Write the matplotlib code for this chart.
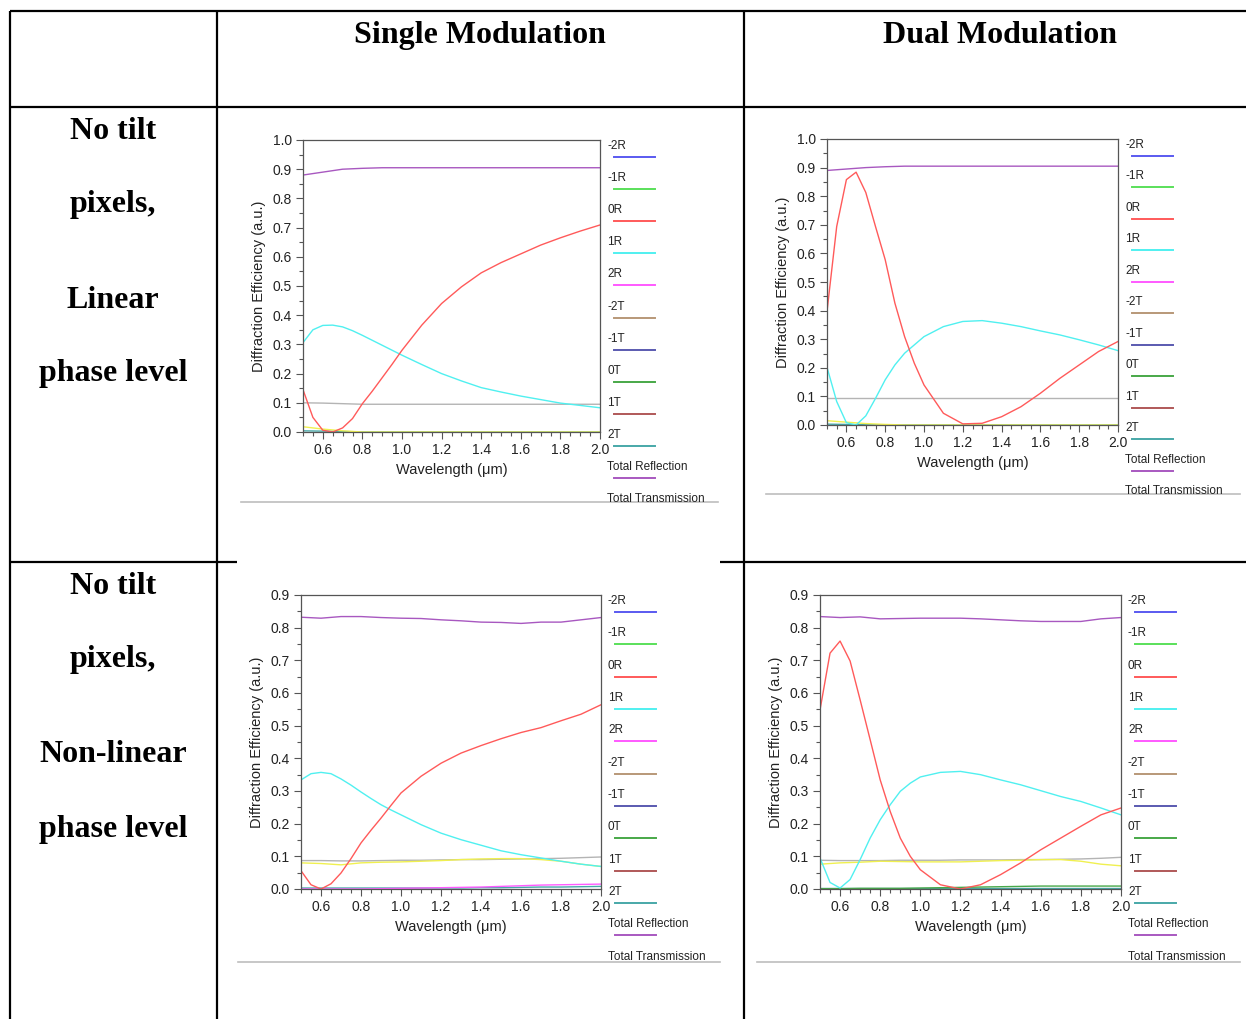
import matplotlib.pyplot as plt
from matplotlib.ticker import MultipleLocator, FormatStrFormatter

W, H = 1246, 1019

# wavelength grids (um)
WL = [0.5, 0.55, 0.6, 0.65, 0.7, 0.75, 0.8, 0.85, 0.9, 0.95, 1.0,
      1.1, 1.2, 1.3, 1.4, 1.5, 1.6, 1.7, 1.8, 1.9, 2.0]
WLC = [0.5, 0.6, 0.7, 0.8, 0.9, 1.0, 1.1, 1.2, 1.3, 1.4, 1.5, 1.6, 1.7, 1.8, 1.9, 2.0]

ORDERS = ['-2R', '-1R', '0R', '1R', '2R', '-2T', '-1T', '0T', '1T', '2T',
          'Total Reflection', 'Total Transmission']
ORDER_COLORS = ['#5a5af0', '#5ae05a', '#ff5a5a', '#50f0f0', '#ff5aff', '#b89878',
                '#5a5ab0', '#48a848', '#b05858', '#48a8a8', '#a858c0', None]

COL_HEADERS = ['Single Modulation', 'Dual Modulation']
ROW_LABELS = [['No tilt', 'pixels,', 'Linear', 'phase level'],
              ['No tilt', 'pixels,', 'Non-linear', 'phase level']]

# single modulation, linear phase
SL_0R = [0.145, 0.05, 0.006, 0.0, 0.014, 0.046, 0.097, 0.14, 0.186, 0.232, 0.28,
         0.366, 0.44, 0.497, 0.545, 0.58, 0.61, 0.64, 0.665, 0.688, 0.709]
SL_1R = [0.306, 0.35, 0.365, 0.366, 0.36, 0.347, 0.331, 0.314, 0.297, 0.28, 0.263,
         0.231, 0.2, 0.175, 0.152, 0.137, 0.123, 0.111, 0.099, 0.091, 0.083]
SL_TOTR = [0.88, 0.89, 0.9, 0.903, 0.905, 0.905, 0.905, 0.905, 0.905, 0.905,
           0.905, 0.905, 0.905, 0.905, 0.905, 0.905]
SL_TOTT = [0.1, 0.099, 0.097, 0.095, 0.095, 0.095, 0.095, 0.095, 0.095, 0.095,
           0.095, 0.095, 0.095, 0.095, 0.095, 0.095]
SL_YEL = [0.018, 0.01, 0.004, 0.0, 0.0, 0.0, 0.0, 0.0, 0.0, 0.0, 0.0, 0.0, 0.0, 0.0, 0.0, 0.0]
SL_2T = [0.004, 0.003, 0.002, 0.0, 0.0, 0.0, 0.0, 0.0, 0.0, 0.0, 0.0, 0.0, 0.0, 0.0, 0.0, 0.0]

# dual modulation, linear phase
DL_0R = [0.397, 0.694, 0.858, 0.884, 0.813, 0.694, 0.578, 0.426, 0.309, 0.216, 0.14,
         0.041, 0.004, 0.006, 0.029, 0.064, 0.111, 0.163, 0.21, 0.257, 0.292]
DL_1R = [0.202, 0.082, 0.008, 0.0, 0.032, 0.093, 0.158, 0.21, 0.251, 0.28, 0.309,
         0.344, 0.362, 0.365, 0.356, 0.344, 0.329, 0.315, 0.298, 0.28, 0.26]
DL_TOTR = [0.89, 0.895, 0.9, 0.903, 0.905, 0.905, 0.905, 0.905, 0.905, 0.905,
           0.905, 0.905, 0.905, 0.905, 0.905, 0.905]
DL_TOTT = [0.095] * 16
DL_YEL = [0.015, 0.01, 0.005, 0.002, 0.0, 0.0, 0.0, 0.0, 0.0, 0.0, 0.0, 0.0, 0.0, 0.0, 0.0, 0.0]
DL_2T = [0.003, 0.002, 0.001, 0.0, 0.0, 0.0, 0.0, 0.0, 0.0, 0.0, 0.0, 0.0, 0.0, 0.0, 0.0, 0.0]

# single modulation, non-linear phase
SN_0R = [0.056, 0.013, 0.0, 0.016, 0.049, 0.093, 0.141, 0.18, 0.217, 0.256, 0.294,
         0.345, 0.385, 0.416, 0.439, 0.46, 0.479, 0.494, 0.515, 0.535, 0.564]
SN_1R = [0.334, 0.353, 0.357, 0.353, 0.337, 0.318, 0.297, 0.277, 0.258, 0.242, 0.227,
         0.197, 0.171, 0.151, 0.134, 0.117, 0.105, 0.095, 0.085, 0.076, 0.069]
SN_TOTR = [0.832, 0.829, 0.834, 0.834, 0.831, 0.829, 0.828, 0.824, 0.821, 0.817,
           0.816, 0.813, 0.817, 0.817, 0.824, 0.831]
SN_TOTT = [0.087, 0.087, 0.086, 0.086, 0.087, 0.088, 0.088, 0.089, 0.09, 0.09,
           0.091, 0.092, 0.093, 0.094, 0.096, 0.098]
SN_YEL = [0.08, 0.078, 0.074, 0.08, 0.082, 0.083, 0.085, 0.087, 0.09, 0.092,
          0.093, 0.093, 0.09, 0.085, 0.076, 0.069]
SN_2T = [0.003, 0.003, 0.003, 0.003, 0.003, 0.003, 0.003, 0.003, 0.003, 0.004,
         0.004, 0.005, 0.006, 0.006, 0.007, 0.008]
SN_2R = [0.0, 0.0, 0.0, 0.0, 0.001, 0.002, 0.003, 0.004, 0.005, 0.006,
         0.008, 0.01, 0.012, 0.013, 0.014, 0.015]

# dual modulation, non-linear phase
DN_0R = [0.548, 0.722, 0.759, 0.698, 0.579, 0.457, 0.334, 0.237, 0.156, 0.1, 0.059,
         0.013, 0.0, 0.013, 0.044, 0.08, 0.12, 0.156, 0.192, 0.227, 0.248]
DN_1R = [0.095, 0.02, 0.003, 0.029, 0.09, 0.156, 0.212, 0.258, 0.299, 0.324, 0.343,
         0.357, 0.36, 0.35, 0.334, 0.319, 0.301, 0.283, 0.268, 0.248, 0.227]
DN_TOTR = [0.834, 0.831, 0.833, 0.827, 0.828, 0.829, 0.829, 0.829, 0.827, 0.824,
           0.821, 0.819, 0.819, 0.819, 0.827, 0.831]
DN_TOTT = [0.088, 0.087, 0.087, 0.087, 0.088, 0.088, 0.088, 0.089, 0.089, 0.089,
           0.09, 0.09, 0.091, 0.092, 0.094, 0.097]
DN_YEL = [0.076, 0.08, 0.082, 0.085, 0.084, 0.083, 0.083, 0.083, 0.085, 0.087,
          0.088, 0.09, 0.09, 0.085, 0.076, 0.071]
DN_2T = [0.004] * 16
DN_0T = [0.001, 0.001, 0.002, 0.002, 0.002, 0.003, 0.004, 0.005, 0.006, 0.007,
         0.008, 0.009, 0.009, 0.009, 0.009, 0.009]

TEXT = '#222222'
SANS = 'Liberation Sans'
SERIF = 'Liberation Serif'

fig = plt.figure(figsize=(W / 100, H / 100), dpi=100)

# background axes in pixel coordinates for the table
bg = fig.add_axes([0, 0, 1, 1])
bg.set_xlim(0, W)
bg.set_ylim(H, 0)
bg.axis('off')

tbl = dict(color='black', lw=1.6, solid_capstyle='butt')
bg.plot([10, W], [11, 11], **tbl)
bg.plot([10, W], [107, 107], **tbl)
bg.plot([10, 237], [562, 562], **tbl)
bg.plot([720, W], [562, 562], **tbl)
for xv in (10, 217, 744):
    bg.plot([xv, xv], [11, H], **tbl)

for xc, txt in zip((480, 1000), COL_HEADERS):
    bg.text(xc, 35, txt, ha='center', va='center', fontsize=23,
            fontweight='bold', family=SERIF, color='black')

for labels, ys in zip(ROW_LABELS, ([131, 204, 300, 373], [587, 660, 755, 829])):
    for txt, yv in zip(labels, ys):
        bg.text(113, yv, txt, ha='center', va='center', fontsize=23,
                fontweight='bold', family=SERIF, color='black')

# grey rules at the bottom of each pasted plot
for x0, x1, yv in ((241, 718, 502), (766, 1240, 494), (238, 720, 962), (757, 1240, 962)):
    bg.plot([x0, x1], [yv, yv], color='#bdbdbd', lw=1.2)


def draw_panel(box, ymax, series):
    x0, y0, x1, y1 = box
    w, h = x1 - x0, y1 - y0
    ax = fig.add_axes([x0 / W, 1 - y1 / H, w / W, h / H])
    for xs, ys, c in series:
        ax.plot(xs, ys, color=c, lw=1.0)
    ax.set_xlim(0.5, 2.0)
    ax.set_ylim(0, ymax)
    ax.xaxis.set_major_locator(MultipleLocator(0.2))
    ax.xaxis.set_minor_locator(MultipleLocator(0.05))
    ax.yaxis.set_major_locator(MultipleLocator(0.1))
    ax.yaxis.set_minor_locator(MultipleLocator(0.05))
    ax.xaxis.set_major_formatter(FormatStrFormatter('%.1f'))
    ax.yaxis.set_major_formatter(FormatStrFormatter('%.1f'))
    ax.tick_params(which='major', direction='out', length=5, width=0.8,
                   color='#555555', labelsize=10, labelcolor=TEXT, pad=3)
    ax.tick_params(which='minor', direction='out', length=3, width=0.8, color='#555555')
    for lab in ax.get_xticklabels() + ax.get_yticklabels():
        lab.set_family(SANS)
    for sp in ax.spines.values():
        sp.set_color('#555555')
        sp.set_linewidth(0.9)
    ax.set_xlabel('Wavelength (μm)', fontsize=10.5, family=SANS, color=TEXT, labelpad=4)
    ax.set_ylabel('Diffraction Efficiency (a.u.)', fontsize=10.5, family=SANS,
                  color=TEXT, labelpad=5)
    # legend: label above a short line sample
    step = 0.11 * h
    for i, (lab, col) in enumerate(zip(ORDERS, ORDER_COLORS)):
        ax.text(1 + 7 / w, 1 - (6 + i * step) / h, lab, transform=ax.transAxes,
                ha='left', va='center', fontsize=8.5, family=SANS, color=TEXT)
        if col is not None:
            ly = 1 - (17 + i * step) / h
            ax.plot([1 + 14 / w, 1 + 55 / w], [ly, ly], transform=ax.transAxes,
                    color=col, lw=1.4, clip_on=False)
    return ax


draw_panel((303, 140, 600, 432), 1.0, [
    (WLC, SL_TOTT, '#b4b4b4'), (WLC, SL_2T, ORDER_COLORS[9]), (WLC, SL_YEL, '#f0f050'),
    (WL, SL_1R, ORDER_COLORS[3]), (WL, SL_0R, ORDER_COLORS[2]),
    (WLC, SL_TOTR, ORDER_COLORS[10])])

draw_panel((827, 139, 1118, 425), 1.0, [
    (WLC, DL_TOTT, '#b4b4b4'), (WLC, DL_2T, ORDER_COLORS[9]), (WLC, DL_YEL, '#f0f050'),
    (WL, DL_1R, ORDER_COLORS[3]), (WL, DL_0R, ORDER_COLORS[2]),
    (WLC, DL_TOTR, ORDER_COLORS[10])])

draw_panel((301, 595, 601, 889), 0.9, [
    (WLC, SN_TOTT, '#b4b4b4'), (WLC, SN_2T, ORDER_COLORS[9]), (WLC, SN_2R, ORDER_COLORS[4]),
    (WLC, SN_YEL, '#f0f050'), (WL, SN_1R, ORDER_COLORS[3]), (WL, SN_0R, ORDER_COLORS[2]),
    (WLC, SN_TOTR, ORDER_COLORS[10])])

draw_panel((820, 595, 1121, 889), 0.9, [
    (WLC, DN_TOTT, '#b4b4b4'), (WLC, DN_2T, ORDER_COLORS[9]), (WLC, DN_0T, ORDER_COLORS[7]),
    (WLC, DN_YEL, '#f0f050'), (WL, DN_1R, ORDER_COLORS[3]), (WL, DN_0R, ORDER_COLORS[2]),
    (WLC, DN_TOTR, ORDER_COLORS[10])])

fig.savefig('out.png', dpi=100)
